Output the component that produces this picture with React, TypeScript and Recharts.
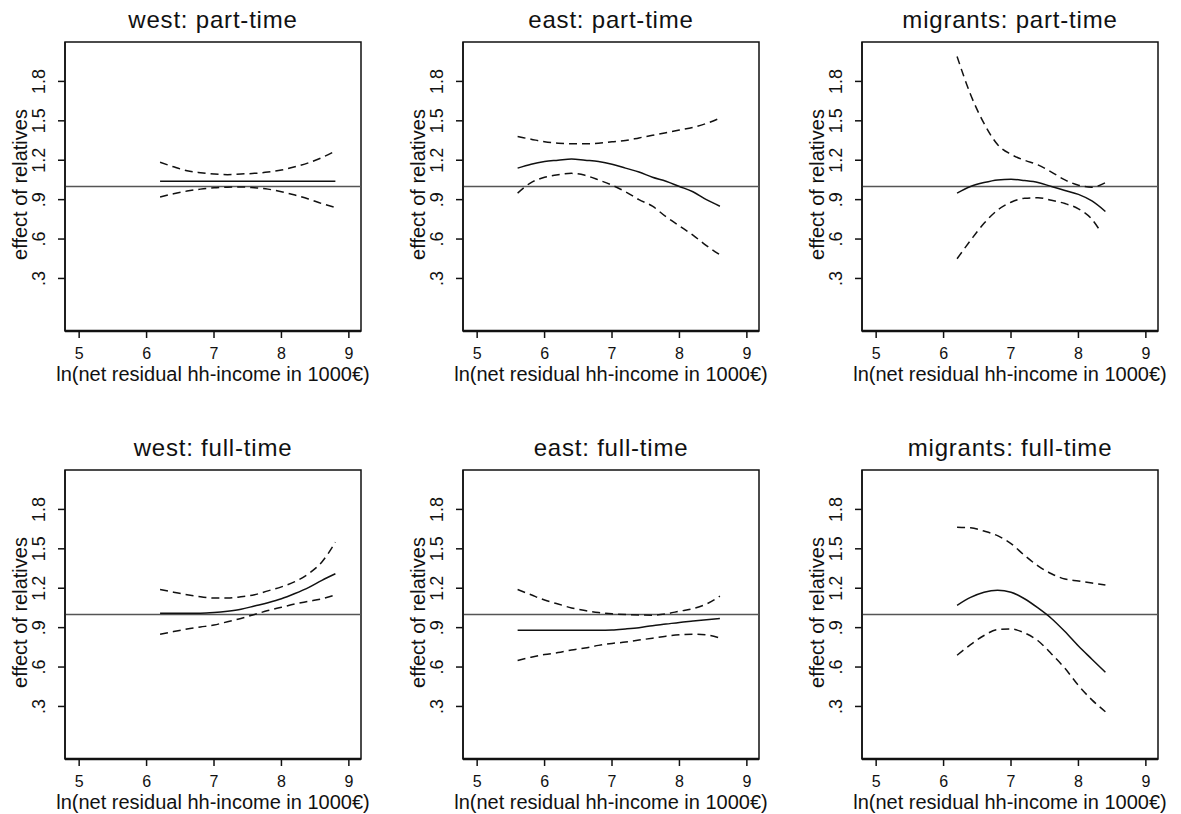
import { LineChart, Line, XAxis, YAxis, ReferenceLine, ReferenceArea } from "recharts";

// x grids (ln net residual hh-income)
const westX = [6.2, 6.4, 6.6, 6.8, 7.0, 7.2, 7.4, 7.6, 7.8, 8.0, 8.2, 8.4, 8.6, 8.8];
const eastX = [5.6, 5.8, 6.0, 6.2, 6.4, 6.6, 6.8, 7.0, 7.2, 7.4, 7.6, 7.8, 8.0, 8.2, 8.4, 8.6];
const migX = [6.2, 6.4, 6.6, 6.8, 7.0, 7.2, 7.4, 7.6, 7.8, 8.0, 8.2, 8.4];
const migPartLowX = [6.2, 6.4, 6.6, 6.8, 7.0, 7.2, 7.4, 7.6, 7.8, 8.0, 8.2, 8.3];

// part-time
const westPartFit = [1.04, 1.04, 1.04, 1.04, 1.04, 1.04, 1.04, 1.04, 1.04, 1.04, 1.04, 1.04, 1.04, 1.04];
const westPartUp = [1.185, 1.15, 1.12, 1.105, 1.095, 1.09, 1.095, 1.1, 1.11, 1.125, 1.15, 1.18, 1.22, 1.27];
const westPartLow = [0.92, 0.945, 0.965, 0.98, 0.99, 0.995, 0.997, 0.99, 0.98, 0.96, 0.935, 0.905, 0.87, 0.84];

const eastPartFit = [1.14, 1.17, 1.19, 1.2, 1.21, 1.2, 1.19, 1.17, 1.14, 1.11, 1.07, 1.04, 1.0, 0.96, 0.9, 0.85];
const eastPartUp = [1.38, 1.36, 1.34, 1.33, 1.325, 1.325, 1.33, 1.34, 1.35, 1.37, 1.39, 1.41, 1.43, 1.45, 1.48, 1.52];
const eastPartLow = [0.95, 1.03, 1.07, 1.09, 1.1, 1.085, 1.05, 1.01, 0.96, 0.9, 0.85, 0.77, 0.7, 0.63, 0.55, 0.48];

const migPartFit = [0.95, 1.0, 1.03, 1.05, 1.055, 1.045, 1.03, 1.0, 0.97, 0.94, 0.89, 0.81];
const migPartUp = [1.99, 1.7, 1.48, 1.32, 1.245, 1.2, 1.165, 1.11, 1.05, 1.01, 0.995, 1.03];
const migPartLow = [0.45, 0.59, 0.72, 0.82, 0.88, 0.91, 0.915, 0.895, 0.87, 0.83, 0.75, 0.68];

// full-time
const westFullFit = [1.01, 1.01, 1.01, 1.01, 1.015, 1.025, 1.04, 1.065, 1.09, 1.12, 1.16, 1.205, 1.26, 1.31];
const westFullUp = [1.19, 1.17, 1.15, 1.135, 1.125, 1.125, 1.135, 1.15, 1.18, 1.21, 1.25, 1.31, 1.4, 1.55];
const westFullLow = [0.85, 0.87, 0.89, 0.905, 0.92, 0.945, 0.97, 1.0, 1.03, 1.055, 1.08, 1.1, 1.12, 1.15];

const eastFullFit = [0.88, 0.88, 0.88, 0.88, 0.88, 0.88, 0.88, 0.882, 0.89, 0.9, 0.915, 0.927, 0.94, 0.95, 0.96, 0.97];
const eastFullUp = [1.19, 1.15, 1.11, 1.08, 1.05, 1.03, 1.015, 1.005, 1.0, 0.997, 0.995, 1.005, 1.025, 1.045, 1.08, 1.14];
const eastFullLow = [0.65, 0.675, 0.695, 0.71, 0.73, 0.745, 0.765, 0.78, 0.79, 0.805, 0.82, 0.835, 0.845, 0.85, 0.845, 0.82];

const migFullFit = [1.07, 1.13, 1.17, 1.185, 1.17, 1.12, 1.05, 0.97, 0.87, 0.76, 0.66, 0.56];
const migFullUp = [1.665, 1.66, 1.635, 1.6, 1.54, 1.45, 1.37, 1.31, 1.27, 1.255, 1.24, 1.225];
const migFullLow = [0.69, 0.77, 0.84, 0.885, 0.89, 0.86, 0.8, 0.7, 0.59, 0.46, 0.35, 0.26];

const xTicks = [5, 6, 7, 8, 9];
const yTicks = [0.3, 0.6, 0.9, 1.2, 1.5, 1.8];
const xLabel = "ln(net residual hh-income in 1000€)";
const yLabel = "effect of relatives";

const FONT = "'Liberation Sans', Arial, Helvetica, sans-serif";
const INK = "#111";

const toPts = (xs: number[], ys: number[]) => xs.map((x, i) => ({ x, y: ys[i] }));

const panels = [
  { title: "west: part-time", left: 0, top: 0, fit: toPts(westX, westPartFit), up: toPts(westX, westPartUp), low: toPts(westX, westPartLow) },
  { title: "east: part-time", left: 398, top: 0, fit: toPts(eastX, eastPartFit), up: toPts(eastX, eastPartUp), low: toPts(eastX, eastPartLow) },
  { title: "migrants: part-time", left: 797, top: 0, fit: toPts(migX, migPartFit), up: toPts(migX, migPartUp), low: toPts(migPartLowX, migPartLow) },
  { title: "west: full-time", left: 0, top: 428, fit: toPts(westX, westFullFit), up: toPts(westX, westFullUp), low: toPts(westX, westFullLow) },
  { title: "east: full-time", left: 398, top: 428, fit: toPts(eastX, eastFullFit), up: toPts(eastX, eastFullUp), low: toPts(eastX, eastFullLow) },
  { title: "migrants: full-time", left: 797, top: 428, fit: toPts(migX, migFullFit), up: toPts(migX, migFullUp), low: toPts(migX, migFullLow) },
];

const fmtY = (v: number) => (v < 1 ? v.toFixed(1).slice(1) : v.toFixed(1));

const YTick = (props: any) => {
  const { y, payload } = props;
  const bx = 45;
  return (
    <text x={bx} y={y} transform={`rotate(-90, ${bx}, ${y})`} textAnchor="middle" fontSize={18} fontFamily={FONT} fill={INK}>
      {fmtY(payload.value)}
    </text>
  );
};

// x tick digits sit close under the axis, label right below them
const XTick = (props: any) => {
  const { x, payload } = props;
  return (
    <text x={x} y={331 + 28} textAnchor="middle" fontSize={16} fontFamily={FONT} fill={INK}>
      {payload.value}
    </text>
  );
};

const XLabel = (props: any) => {
  const vb = props.viewBox;
  return (
    <text x={vb.x + vb.width / 2} y={vb.y + 50} textAnchor="middle" fontSize={20} fontFamily={FONT} fill={INK}>
      {xLabel}
    </text>
  );
};

const YLabel = (props: any) => {
  const vb = props.viewBox;
  const cx = 27;
  const cy = vb.y + vb.height / 2 - 2;
  return (
    <text x={cx} y={cy} transform={`rotate(-90, ${cx}, ${cy})`} textAnchor="middle" fontSize={20} fontFamily={FONT} fill={INK}>
      {yLabel}
    </text>
  );
};

const Panel = ({ p }: { p: (typeof panels)[number] }) => (
  <div style={{ position: "absolute", left: p.left, top: p.top, width: 396, height: 386 }}>
    <div
      style={{
        position: "absolute",
        left: 65,
        width: 296,
        top: 8,
        textAlign: "center",
        fontFamily: FONT,
        fontSize: 24,
        lineHeight: "24px",
        color: INK,
        letterSpacing: 0.8,
      }}
    >
      {p.title}
    </div>
    <LineChart width={396} height={386} margin={{ top: 42, right: 35, left: 0, bottom: 0 }}>
      <XAxis
        type="number"
        dataKey="x"
        domain={[4.79, 9.18]}
        ticks={xTicks}
        allowDataOverflow
        height={55}
        tickSize={7}
        tick={XTick}
        axisLine={{ stroke: INK, strokeWidth: 2.5 }}
        tickLine={{ stroke: INK, strokeWidth: 1.5 }}
        label={{ content: XLabel }}
      />
      <YAxis
        type="number"
        dataKey="y"
        domain={[-0.1, 2.1]}
        ticks={yTicks}
        allowDataOverflow
        width={65}
        tickSize={7}
        tick={YTick}
        axisLine={{ stroke: INK, strokeWidth: 1.5 }}
        tickLine={{ stroke: INK, strokeWidth: 1.5 }}
        label={{ content: YLabel }}
      />
      <ReferenceArea x1={4.79} x2={9.18} y1={-0.1} y2={2.1} fill="none" stroke={INK} strokeWidth={1.5} />
      <ReferenceLine y={1} stroke="#555" strokeWidth={1.3} />
      <Line data={p.up} dataKey="y" type="monotone" stroke={INK} strokeWidth={1.5} strokeDasharray="8 5" dot={false} isAnimationActive={false} />
      <Line data={p.fit} dataKey="y" type="monotone" stroke={INK} strokeWidth={1.5} dot={false} isAnimationActive={false} />
      <Line data={p.low} dataKey="y" type="monotone" stroke={INK} strokeWidth={1.5} strokeDasharray="8 5" dot={false} isAnimationActive={false} />
    </LineChart>
  </div>
);

export default function App() {
  return (
    <div style={{ position: "absolute", left: 0, top: 0, width: 1181, height: 814, background: "#fff" }}>
      {panels.map((p) => (
        <Panel key={p.title} p={p} />
      ))}
    </div>
  );
}
